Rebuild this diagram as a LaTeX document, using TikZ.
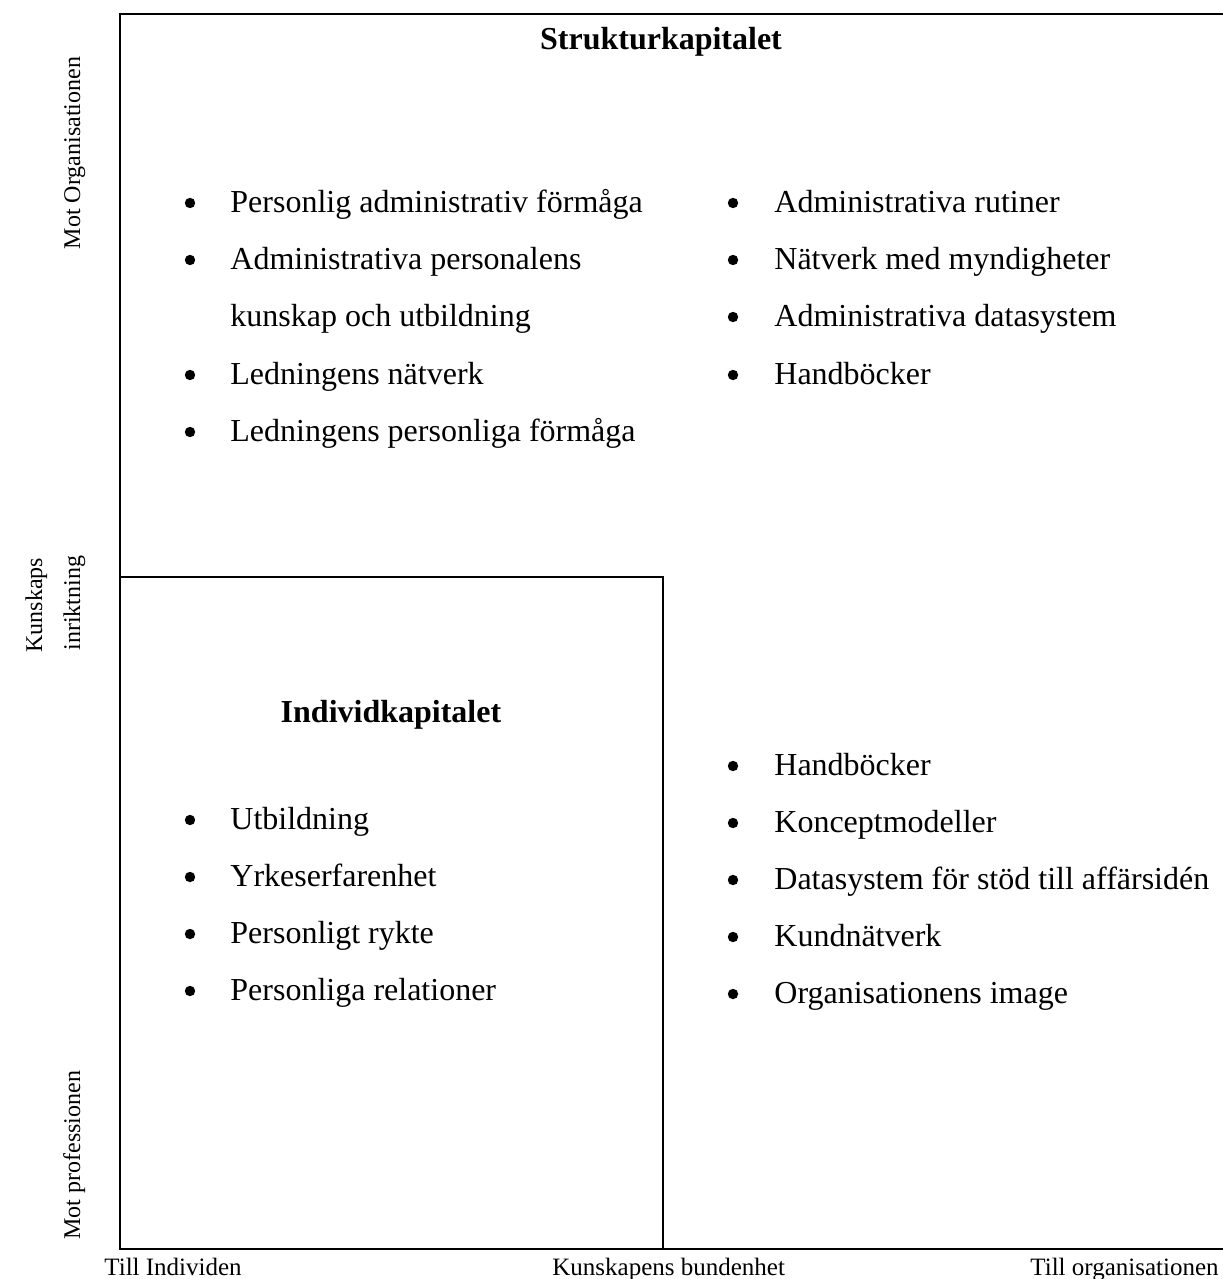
\documentclass[tikz,border=0pt]{standalone}
\usepackage{fontspec}
\setmainfont{Liberation Serif}
\begin{document}
\begin{tikzpicture}[x=0.5pt,y=-0.5pt,
  frame/.style={line width=1pt, line cap=rect},
  item/.style={anchor=base west, inner sep=0pt, font=\fontsize{16}{16}\selectfont},
  dot/.style={circle, fill=black, inner sep=0pt, minimum size=5.2pt},
  title/.style={anchor=base, inner sep=0pt, font=\fontsize{16}{16}\selectfont\bfseries},
  axis/.style={inner sep=0pt, font=\fontsize{12.5}{12.5}\selectfont},
  side/.style={inner sep=0pt, font=\fontsize{12}{12}\selectfont, anchor=base, rotate=90}]
\useasboundingbox (0,0) rectangle (1222,1279);
% frame
\coordinate (tl) at (120,14);
\coordinate (tr) at (1222,14);
\coordinate (bl) at (120,1249);
\coordinate (br) at (1222,1249);
\coordinate (itl) at (120,577);
\coordinate (itr) at (663,577);
\coordinate (ibr) at (663,1249);
\draw[frame] (tr) -- (tl) -- (bl) -- (br);
\draw[frame] (itl) -- (itr) -- (ibr);
% titles
\node[title] (st) at (661,50) {Strukturkapitalet};
\node[title] (it) at (391,722) {Individkapitalet};
% top left
\node[dot] (d1) at (190,203) {};
\node[item] (t1) at (230,212) {Personlig administrativ förmåga};
\node[dot] (d2) at (190,260) {};
\node[item] (t2) at (230,269) {Administrativa personalens};
\node[item] (t2b) at (230,326) {kunskap och utbildning};
\node[dot] (d3) at (190,375) {};
\node[item] (t3) at (230,384) {Ledningens nätverk};
\node[dot] (d4) at (190,432) {};
\node[item] (t4) at (230,441) {Ledningens personliga förmåga};
% top right
\node[dot] (e1) at (733,203) {};
\node[item] (u1) at (774,212) {Administrativa rutiner};
\node[dot] (e2) at (733,260) {};
\node[item] (u2) at (774,269) {Nätverk med myndigheter};
\node[dot] (e3) at (733,317) {};
\node[item] (u3) at (774,326) {Administrativa datasystem};
\node[dot] (e4) at (733,375) {};
\node[item] (u4) at (774,384) {Handböcker};
% individ
\node[dot] (f1) at (190,820) {};
\node[item] (v1) at (230,829) {Utbildning};
\node[dot] (f2) at (190,877) {};
\node[item] (v2) at (230,886) {Yrkeserfarenhet};
\node[dot] (f3) at (190,934) {};
\node[item] (v3) at (230,943) {Personligt rykte};
\node[dot] (f4) at (190,991) {};
\node[item] (v4) at (230,1000) {Personliga relationer};
% bottom right
\node[dot] (g1) at (733,766) {};
\node[item] (w1) at (774,775) {Handböcker};
\node[dot] (g2) at (733,823) {};
\node[item] (w2) at (774,832) {Konceptmodeller};
\node[dot] (g3) at (733,880) {};
\node[item] (w3) at (774,889) {Datasystem för stöd till affärsidén};
\node[dot] (g4) at (733,937) {};
\node[item] (w4) at (774,946) {Kundnätverk};
\node[dot] (g5) at (733,994) {};
\node[item] (w5) at (774,1003) {Organisationens image};
% axis labels
\node[axis, anchor=base west] (x1) at (104,1275) {Till Individen};
\node[axis, anchor=base west] (x2) at (552,1275) {Kunskapens bundenhet};
\node[axis, anchor=base east] (x3) at (1219,1275) {Till organisationen};
\node[side] (y1) at (80,153) {Mot Organisationen};
\node[side] (y2) at (42,605) {Kunskaps};
\node[side] (y3) at (80,603) {inriktning};
\node[side] (y4) at (80,1155) {Mot professionen};
\end{tikzpicture}
\end{document}
